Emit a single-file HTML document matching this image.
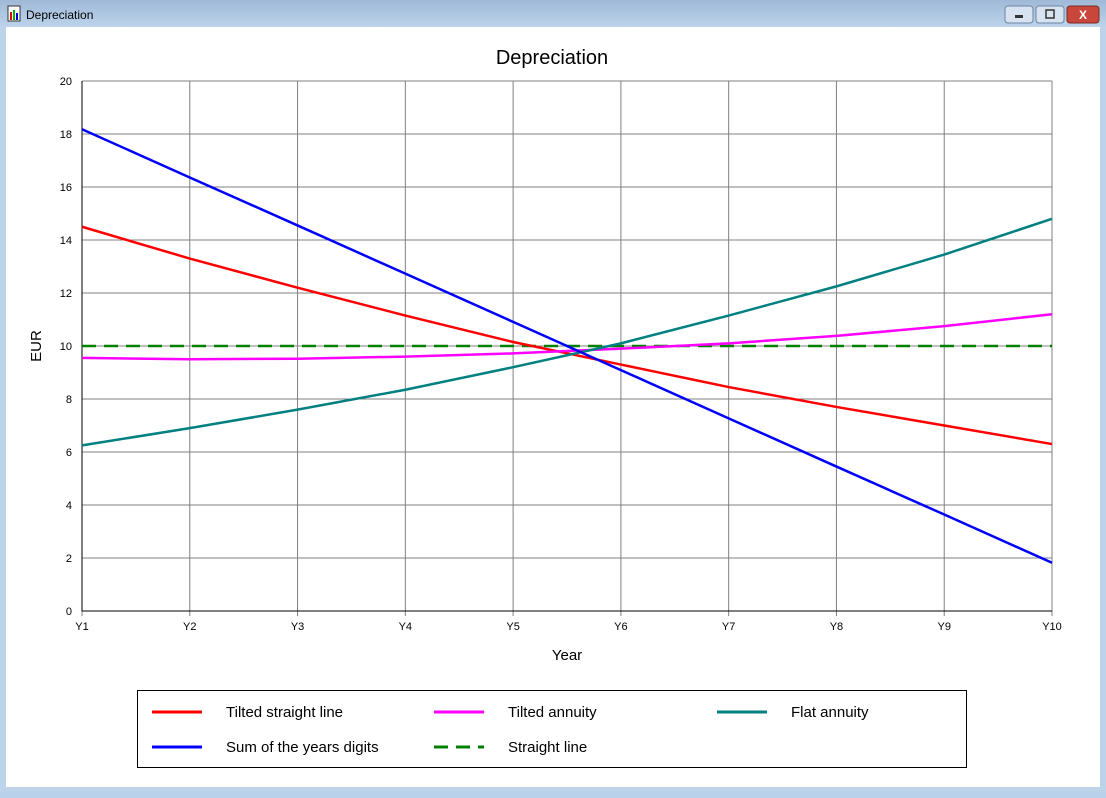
<!DOCTYPE html>
<html><head><meta charset="utf-8">
<style>
body{margin:0;width:1106px;height:793px;overflow:hidden;background:#b9d1ea;font-family:"Liberation Sans",sans-serif;}
#win{position:absolute;left:0;top:0;width:1106px;height:793px;}
</style></head>
<body>
<div id="win">
<svg width="1106" height="793" xmlns="http://www.w3.org/2000/svg">
<defs><linearGradient id="tb" x1="0" y1="0" x2="0" y2="1"><stop offset="0" stop-color="#9fb8d6"/><stop offset="1" stop-color="#bcd3ea"/></linearGradient></defs>
<rect x="0" y="0" width="1106" height="793" fill="#bcd3ea"/>
<rect x="0" y="0" width="1106" height="27" fill="url(#tb)"/>
<rect x="8" y="6" width="12" height="15" fill="#fff" stroke="#333" stroke-width="1"/>
<rect x="10" y="12" width="2" height="8" fill="#d00"/><rect x="13" y="10" width="2" height="10" fill="#0a0"/><rect x="16" y="13" width="2" height="7" fill="#00d"/>
<text x="26" y="19" font-size="12" fill="#000">Depreciation</text>
<g><rect x="1005" y="6" width="28" height="17" rx="3" fill="#d7e3f1" stroke="#6d84a3"/><rect x="1015" y="15" width="8" height="3" fill="#333"/></g>
<g><rect x="1036" y="6" width="28" height="17" rx="3" fill="#d7e3f1" stroke="#6d84a3"/><rect x="1046" y="10" width="8" height="8" fill="none" stroke="#333" stroke-width="1.5"/></g>
<g><rect x="1067" y="6" width="32" height="17" rx="3" fill="#c9473a" stroke="#7a2a22"/><text x="1083" y="19" font-size="12" font-weight="bold" fill="#fff" text-anchor="middle">X</text></g>
<rect x="6" y="27" width="1094" height="760" fill="#fff"/>
<text x="552" y="64" font-size="20" text-anchor="middle" fill="#000">Depreciation</text>
<g id="grid"></g>
<g id="series"></g>
<text x="0" y="0" font-size="15" text-anchor="middle" transform="translate(41,346) rotate(-90)">EUR</text>
<text x="567" y="660" font-size="15" text-anchor="middle">Year</text>
<g>
<rect x="137.5" y="690.5" width="829" height="77" fill="#fff" stroke="#000"/>
<g id="legend"></g>
</g>
</svg>
</div>
<script>
const categories=["Y1","Y2","Y3","Y4","Y5","Y6","Y7","Y8","Y9","Y10"];
const yTicks=[0,2,4,6,8,10,12,14,16,18,20];
const tiltedStraight=[14.5,13.3,12.2,11.15,10.15,9.3,8.45,7.7,7.0,6.3];
const tiltedAnnuity=[9.55,9.5,9.52,9.6,9.72,9.9,10.1,10.38,10.75,11.2];
const flatAnnuity=[6.25,6.9,7.6,8.35,9.2,10.1,11.15,12.25,13.45,14.8];
const sumOfYears=[18.18,16.36,14.55,12.73,10.91,9.09,7.27,5.45,3.64,1.82];
const straightLine=[10,10,10,10,10,10,10,10,10,10];
const NS="http://www.w3.org/2000/svg";
const X0=82,X1=1052,Y0=611,Y1=81;
function xs(i){return X0+(X1-X0)*i/(categories.length-1);}
function ys(v){return Y0-(Y0-Y1)*v/20;}
function mk(t,a,p){const e=document.createElementNS(NS,t);for(const k in a)e.setAttribute(k,a[k]);p.appendChild(e);return e;}
const g=document.getElementById('grid');
yTicks.forEach(v=>{
 const l=mk('line',{x1:X0,x2:X1,y1:ys(v),y2:ys(v),stroke:'#808080','stroke-width':1},g);
 
 
 const t=mk('text',{x:X0-10,y:ys(v)+4,'font-size':11,'text-anchor':'end'},g);t.textContent=v;
 
 
});
categories.forEach((c,i)=>{
 const l=mk('line',{x1:xs(i),x2:xs(i),y1:Y1,y2:Y0+5,stroke:'#808080','stroke-width':1},g);
 
 
 const t=mk('text',{x:xs(i),y:Y0+19,'font-size':11,'text-anchor':'middle'},g);t.textContent=c;
 
 
});
mk('line',{x1:X0,x2:X0,y1:Y1,y2:Y0,stroke:'#000'},g);
mk('line',{x1:X0,x2:X1,y1:Y0,y2:Y0,stroke:'#000'},g);
const series=[
 {name:'Tilted straight line',data:tiltedStraight,color:'#ff0000',dash:null,id:'tilted-straight-line'},
 {name:'Sum of the years digits',data:sumOfYears,color:'#0000ff',dash:null,id:'sum-of-years-digits'},
 {name:'Tilted annuity',data:tiltedAnnuity,color:'#ff00ff',dash:null,id:'tilted-annuity'},
 {name:'Straight line',data:straightLine,color:'#008000',dash:'14,8',id:'straight-line'},
 {name:'Flat annuity',data:flatAnnuity,color:'#008080',dash:null,id:'flat-annuity'}
];
const sg=document.getElementById('series');
const drawOrder=[3,0,2,4,1];
drawOrder.forEach(k=>{const s=series[k];
 const p=mk('polyline',{points:s.data.map((v,i)=>xs(i)+','+ys(v)).join(' '),fill:'none',stroke:s.color,'stroke-width':2.5},sg);
 if(s.dash)p.setAttribute('stroke-dasharray',s.dash);
 
 
});
const lg=document.getElementById('legend');
const pos=[[152,712],[152,747],[434,712],[434,747],[717,712]];
series.forEach((s,k)=>{const [x,y]=pos[k];
 const e=mk('g',{},lg);
 
 
 const l=mk('line',{x1:x,x2:x+50,y1:y,y2:y,stroke:s.color,'stroke-width':3},e);
 if(s.dash)l.setAttribute('stroke-dasharray','14,8');
 const t=mk('text',{x:x+74,y:y+5,'font-size':15},e);t.textContent=s.name;
});
</script>
</body></html>
